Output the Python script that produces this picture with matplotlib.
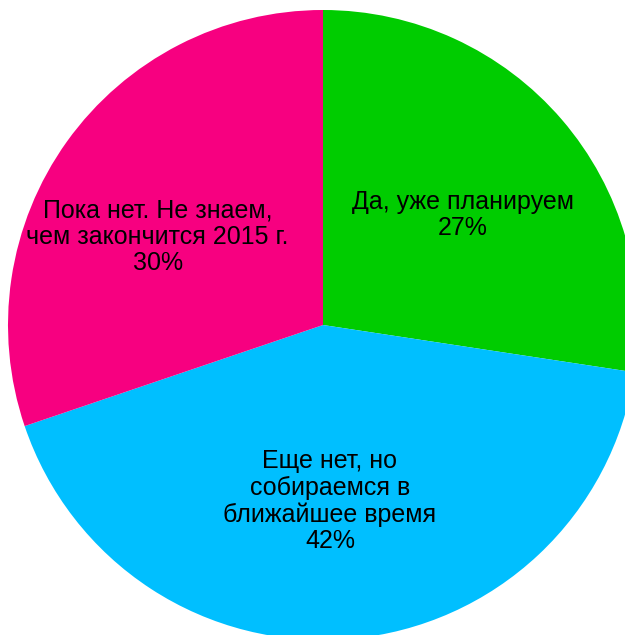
import matplotlib
matplotlib.use("Agg")
import matplotlib.pyplot as plt
import numpy as np

plt.rcParams['font.family'] = ['Liberation Sans', 'DejaVu Sans']

# данные
labels = ['Да, уже планируем', 'Еще нет, но\nсобираемся в\nближайшее время',
          'Пока нет. Не знаем,\nчем закончится 2015 г.']
values = [27.4, 42.4, 30.2]
pcts = ['27%', '42%', '30%']
colors = ['#00CC00', '#00BFFF', '#F70080']

fig = plt.figure(figsize=(6.25, 6.35), dpi=100)
# pie slightly larger than the figure, cut at right/bottom like the original
ax = fig.add_axes([8 / 625, -5 / 635, 630 / 625, 630 / 635])

wedges, _ = ax.pie(values, colors=colors, startangle=90, counterclock=False,
                   radius=1.0, wedgeprops=dict(linewidth=0))
ax.set_xlim(-1, 1)
ax.set_ylim(-1, 1)
ax.set_aspect('equal')
ax.axis('off')

# label positions: distance from centre and small angle shift per slice
dist = [0.565, 0.56, 0.595]
shift = [-2.5, -2.8, 7.5]
for w, lab, p, d, s in zip(wedges, labels, pcts, dist, shift):
    ang = np.deg2rad((w.theta1 + w.theta2) / 2 + s)
    ax.text(d * np.cos(ang), d * np.sin(ang), lab + '\n' + p,
            ha='center', va='center', fontsize=18, linespacing=1.13,
            color='black')

fig.savefig('out.png', dpi=100)
